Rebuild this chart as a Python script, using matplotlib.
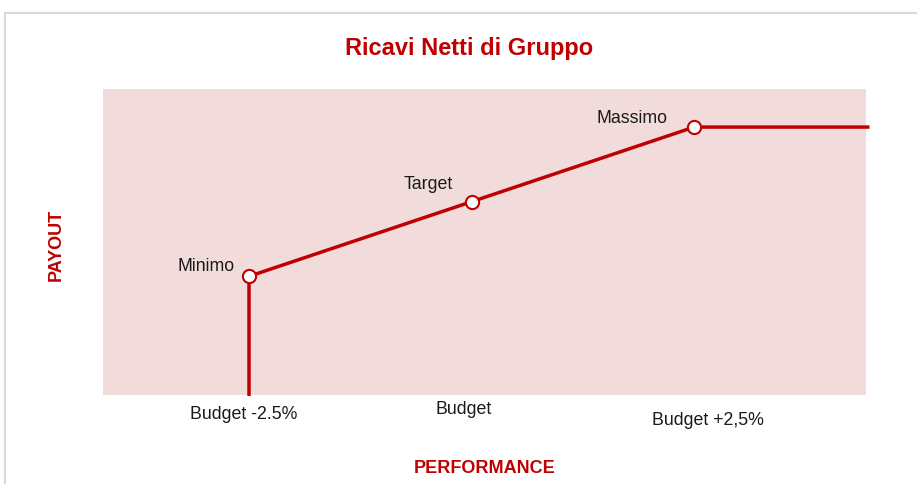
import matplotlib
matplotlib.use("Agg")
import matplotlib.pyplot as plt
from matplotlib.lines import Line2D

plt.rcParams['font.family'] = ['Liberation Sans', 'DejaVu Sans']

# data
perf = [97.5, 100.0, 102.5]           # Budget -2.5%, Budget, Budget +2,5%
payout = [50, 100, 150]               # Minimo, Target, Massimo
point_labels = ['Minimo', 'Target', 'Massimo']
tick_labels = ['Budget -2.5%', 'Budget', 'Budget +2,5%']
perf_end = 104.45
y_floor = -29

red = '#C00000'
bg = '#F1DCDB'

fig = plt.figure(figsize=(9.17, 4.85), dpi=100)
ax = fig.add_axes([103/917, 89/485, 763/917, 306/485])
ax.set_facecolor(bg)

# payout curve: vertical drop at minimo, linear to max, then flat
xs = [perf[0]] + perf + [perf_end]
ys = [y_floor] + payout + [payout[-1]]
ax.plot(xs, ys, color=red, lw=2.5, clip_on=False, zorder=2)
ax.plot(perf, payout, 'o', ms=9.5, mfc='white', mec=red, mew=1.5, zorder=3)

ax.set_xlim(95.86, 104.43)
ax.set_ylim(y_floor - 0.5, 175.5)
for s in ax.spines.values():
    s.set_visible(False)
ax.set_xticks([])
ax.set_yticks([])

# labels near the points
offs = [(-10, 8, 'right'), (-31, 13, 'center'), (-45, 7, 'center')]
for x, y, lab, (dx, dy, ha) in zip(perf, payout, point_labels, offs):
    ax.annotate(lab, (x, y), xytext=(dx, dy), textcoords='offset points',
                ha=ha, va='center', fontsize=12.8, color='#1a1a1a')

# category labels below the plot area (uneven heights as in the original)
toffs = [(-4, -13), (-6, -9.5), (10, -18)]
for x, lab, (dx, dy) in zip(perf, tick_labels, toffs):
    ax.annotate(lab, (x, 0), xycoords=('data', 'axes fraction'),
                xytext=(dx, dy), textcoords='offset points',
                ha='center', va='center', fontsize=12.8, color='#1a1a1a')

fig.text(469/917, 1 - 49/485, 'Ricavi Netti di Gruppo', ha='center', va='center',
         fontsize=17, fontweight='bold', color=red)
fig.text(485/917, 1 - 469/485, 'PERFORMANCE', ha='center', va='center',
         fontsize=13, fontweight='bold', color=red)
fig.text(56/917, 1 - 245/485, 'PAYOUT', ha='center', va='center', rotation=90,
         fontsize=13, fontweight='bold', color=red)

# card border (top and left edges)
fig.add_artist(Line2D([5/917, 1], [1 - 14/485, 1 - 14/485], color='#d9d9d9', lw=1.5))
fig.add_artist(Line2D([5/917, 5/917], [0, 1 - 14/485], color='#d9d9d9', lw=1.5))

fig.savefig('out.png', dpi=100)
